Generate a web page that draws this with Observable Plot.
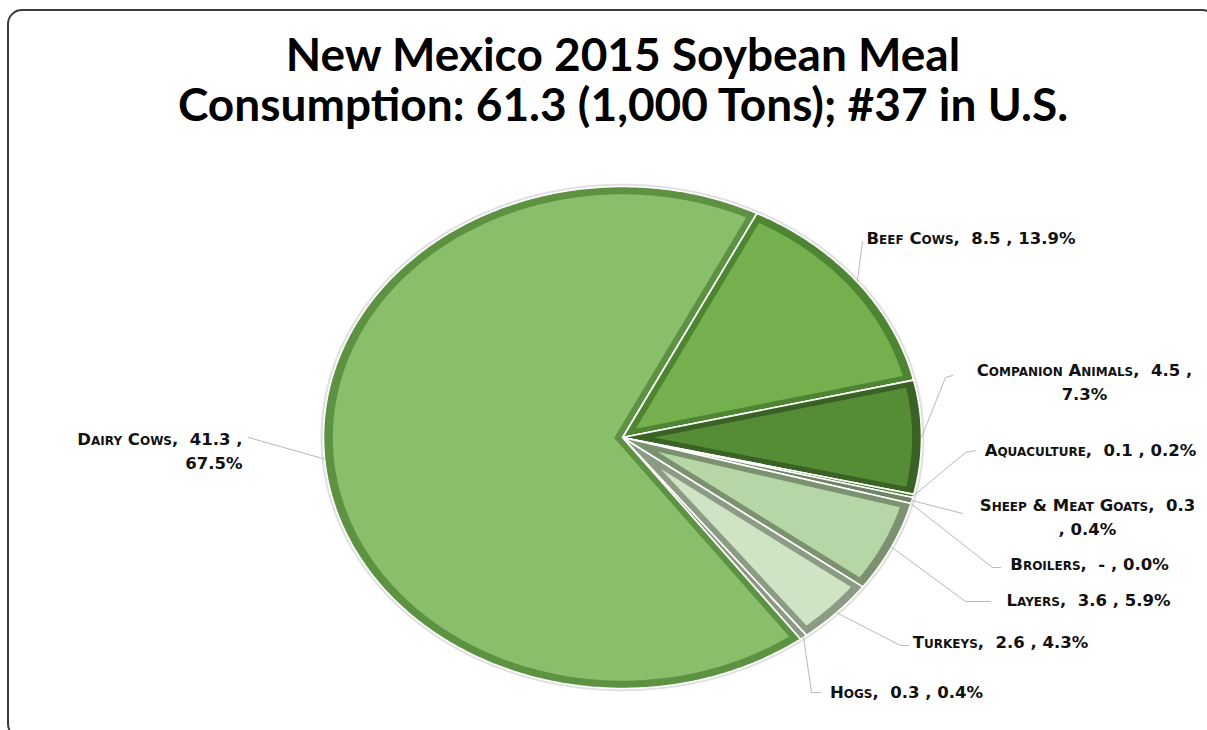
<!DOCTYPE html>
<html>
<head>
<meta charset="utf-8">
<script src="https://cdn.jsdelivr.net/npm/d3@7"></script>
<script src="https://cdn.jsdelivr.net/npm/@observablehq/plot@0.6"></script>
<style>
  html, body { margin: 0; padding: 0; background: #fff; }
  body { width: 1207px; height: 730px; overflow: hidden; position: relative; }
  #frame { position: absolute; left: 7px; top: 9px; width: 1210px; height: 730px;
           border: 2.5px solid #3a3a3a; border-radius: 15px; box-sizing: border-box; }
  #title { position: absolute; left: 0; top: 0; width: 1246px; height: 140px; text-align: center;
           font-family: Lato, "Open Sans", sans-serif; font-weight: 700; font-size: 46px;
           line-height: 50px; padding-top: 29px; box-sizing: border-box; color: #000; }
  #chart { position: absolute; left: 0; top: 140px; }
</style>
</head>
<body>
<div id="frame"></div>
<div id="title">New Mexico 2015 Soybean Meal<br>Consumption: 61.3 (1,000 Tons); #37 in U.S.</div>
<div id="chart"></div>
<script>
// ---- data ----
const categories = ["Beef Cows", "Companion Animals", "Aquaculture", "Sheep & Meat Goats", "Broilers", "Layers", "Turkeys", "Hogs", "Dairy Cows"];
const values = [8.5, 4.5, 0.1, 0.3, 0, 3.6, 2.6, 0.3, 41.3];
const valueLabels = ["8.5", "4.5", "0.1", "0.3", "-", "3.6", "2.6", "0.3", "41.3"];
const percents = [13.9, 7.3, 0.2, 0.4, 0.0, 5.9, 4.3, 0.4, 67.5];

// ---- styles / layout ----
const fills = ["#74b14e", "#558d37", "#4f9a2c", "#8aa57c", "#9cbf8b", "#b7d6a7", "#cfe4c4", "#a9b9a1", "#89bf6b"];
const edges = ["#4e8532", "#3a6224", "#3d7a22", "#6f8466", "#7f9a72", "#7c9170", "#8c9c84", "#8b9984", "#5e9243"];
const RX = 299, RY = 251;          // ellipse radii (px)
const CX = 622, CY = 297;          // pie centre within the svg
const W = 1207, H = 590;
const START = 26.7 * Math.PI / 180; // rotation of first slice
const BEVEL = 0.024;
// label layout: text position relative to centre, elbow and end of the leader line, anchor, line break mode
const labelLayout = [
  {tx: 244, ty: -201, anchor: "start", elbow: null, end: [240, -196], brk: null},
  {tx: 462, ty: -69, anchor: "middle", elbow: [323, -60], end: [330, -62], brk: "comma"},
  {tx: 468, ty: 11, anchor: "middle", elbow: [343, 15], end: [353, 13], brk: null},
  {tx: 465, ty: 66, anchor: "middle", elbow: null, end: [340, 76], brk: "value"},
  {tx: 467, ty: 125, anchor: "middle", elbow: [370, 130], end: [378, 130], brk: null},
  {tx: 466, ty: 161, anchor: "middle", elbow: [343, 164], end: [368, 164], brk: null},
  {tx: 378, ty: 203, anchor: "middle", elbow: [278, 208], end: [286, 208], brk: null},
  {tx: 284, ty: 253, anchor: "middle", elbow: [189, 255], end: [198, 255], brk: null},
  {tx: -380, ty: 0, anchor: "end", elbow: null, end: [-374, 0], brk: "comma"}
];

// ---- geometry from data ----
const total = d3.sum(percents);
let acc = START;
const slices = categories.map((c, i) => {
  const a0 = acc, a1 = acc + percents[i] / total * 2 * Math.PI;
  acc = a1;
  return {i, c, a0, a1, mid: (a0 + a1) / 2};
});
const P = (a, r) => ({x: RX * r * Math.sin(a), y: -RY * r * Math.cos(a)});
function arcPts(a0, a1, r) {
  const n = Math.max(2, Math.ceil((a1 - a0) / 0.01));
  return d3.range(n + 1).map(k => P(a0 + (a1 - a0) * k / n, r));
}
function outerPoly(s) {
  return [P(0, 0), ...arcPts(s.a0, s.a1, 1), P(0, 0)];
}
function innerPoly(s) {
  const w = s.a1 - s.a0, d = BEVEL, R = 1 - d * 1.3;
  const da = Math.asin(d / R);
  if (w < 4 * da) return null;
  const apexR = d / Math.sin(w / 2);
  const apex = P(s.mid, apexR);
  return [apex, ...arcPts(s.a0 + da, s.a1 - da, R), apex];
}

const marks = [];
// soft shadow of the pie
marks.push(Plot.line(arcPts(0, 2 * Math.PI, 1.006), {x: "x", y: "y", stroke: "#d4d4d4", strokeWidth: 2.5, strokeOpacity: 0.7}));
slices.filter(s => s.a1 > s.a0).forEach(s => {
  marks.push(Plot.line(outerPoly(s), {x: "x", y: "y", fill: edges[s.i], stroke: "#ffffff", strokeWidth: 1.6, strokeLinejoin: "round"}));
  const ip = innerPoly(s);
  if (ip) marks.push(Plot.line(ip, {x: "x", y: "y", fill: fills[s.i], stroke: "none"}));
});
// leader lines
slices.forEach(s => {
  const L = labelLayout[s.i];
  const a = P(s.mid, 1);
  const pts = [a];
  if (L.elbow) pts.push({x: L.elbow[0], y: L.elbow[1]});
  pts.push({x: L.end[0], y: L.end[1]});
  marks.push(Plot.line(pts, {x: "x", y: "y", stroke: "#b9b9b9", strokeWidth: 1}));
});
// labels
const labels = slices.map(s => {
  const L = labelLayout[s.i];
  const v = valueLabels[s.i], p = percents[s.i].toFixed(1) + "%";
  let text;
  if (L.brk === "comma") text = `${s.c},  ${v} ,\n${p}`;
  else if (L.brk === "value") text = `${s.c},  ${v}\n, ${p}`;
  else text = `${s.c},  ${v} , ${p}`;
  return {x: L.tx, y: L.ty, text, anchor: L.anchor};
});
["start", "middle", "end"].forEach(anchor => {
  marks.push(Plot.text(labels.filter(d => d.anchor === anchor), {
    x: "x", y: "y", text: "text", textAnchor: anchor, lineAnchor: "top", lineHeight: 1.45,
    dy: -9, fontSize: 16.5, fontWeight: "bold", fontVariant: "small-caps",
    fontFamily: "'DejaVu Sans', Verdana, sans-serif", fill: "#111"
  }));
});

const chart = Plot.plot({
  width: W, height: H, margin: 0,
  x: {domain: [-CX, W - CX], range: [0, W], axis: null},
  y: {domain: [-CY, H - CY], range: [0, H], axis: null},
  marks
});
document.getElementById("chart").append(chart);
</script>
</body>
</html>
